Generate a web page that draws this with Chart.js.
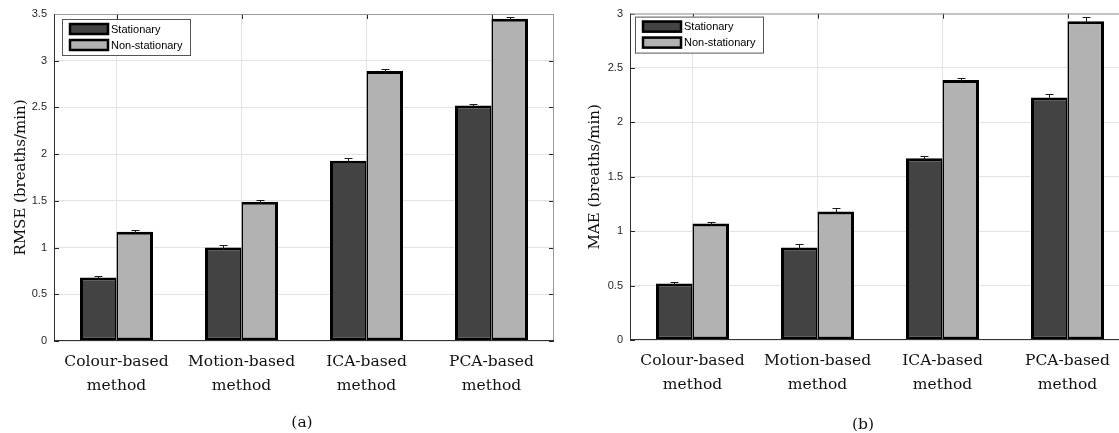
<!DOCTYPE html>
<html>
<head>
<meta charset="utf-8">
<script src="https://cdn.jsdelivr.net/npm/chart.js@4"></script>
<style>
  html, body { margin: 0; padding: 0; background: #fff; overflow: hidden; width: 1119px; height: 433px; position: relative; }
  canvas { position: absolute; top: 0; }
  #chartA { left: 0; }
  #chartB { left: 560px; }
  .caption { position: absolute; font-family: "DejaVu Serif", serif; font-size: 15.5px; color: #111; transform: translate(-50%, -50%); white-space: nowrap; }
</style>
</head>
<body>
<canvas id="chartA" width="560" height="433"></canvas>
<canvas id="chartB" width="576" height="433"></canvas>
<div class="caption" style="left:302px; top:422px;">(a)</div>
<div class="caption" style="left:863px; top:424px;">(b)</div>
<script>
// Categories (two-line axis labels)
const methods = [
  ['Colour-based', 'method'],
  ['Motion-based', 'method'],
  ['ICA-based', 'method'],
  ['PCA-based', 'method']
];
const seriesNames = ['Stationary', 'Non-stationary'];

// RMSE (breaths/min)
const rmseStationary       = [0.68, 1.00, 1.93, 2.52];
const rmseStationaryErr    = [0.015, 0.03, 0.025, 0.02];
const rmseNonStationary    = [1.17, 1.49, 2.89, 3.45];
const rmseNonStationaryErr = [0.015, 0.02, 0.02, 0.02];

// MAE (breaths/min)
const maeStationary       = [0.52, 0.85, 1.67, 2.23];
const maeStationaryErr    = [0.015, 0.03, 0.02, 0.03];
const maeNonStationary    = [1.07, 1.18, 2.39, 2.93];
const maeNonStationaryErr = [0.015, 0.03, 0.02, 0.035];

const DARK = '#434343';
const LIGHT = '#b2b2b2';
const INK = '#262626';

// Box, inward ticks, error bars and an inside legend, MATLAB style
function decorPlugin(legendDx, legendDy) {
  return {
    id: 'decor',
    beforeDatasetsDraw(chart) {
      const { ctx, chartArea: a, scales } = chart;
      ctx.save();
      ctx.strokeStyle = INK;
      ctx.lineWidth = 1;
      const tl = 5;
      scales.y.ticks.forEach(t => {
        const y = Math.round(scales.y.getPixelForValue(t.value)) + 0.5;
        ctx.beginPath();
        ctx.moveTo(a.left, y); ctx.lineTo(a.left + tl, y);
        ctx.moveTo(a.right, y); ctx.lineTo(a.right - tl, y);
        ctx.stroke();
      });
      methods.forEach((m, i) => {
        const x = Math.round(scales.x.getPixelForValue(i)) + 0.5;
        ctx.beginPath();
        ctx.moveTo(x, a.top); ctx.lineTo(x, a.top + tl);
        ctx.moveTo(x, a.bottom); ctx.lineTo(x, a.bottom - tl);
        ctx.stroke();
      });
      ctx.restore();
    },
    afterDatasetsDraw(chart) {
      const { ctx, chartArea: a, scales } = chart;
      ctx.save();
      // error bars (upper whisker shows above each bar)
      ctx.strokeStyle = '#1a1a1a';
      ctx.lineWidth = 1;
      chart.data.datasets.forEach((ds, di) => {
        const meta = chart.getDatasetMeta(di);
        meta.data.forEach((bar, i) => {
          const x = Math.round(bar.x) + 0.5;
          const yTop = Math.round(scales.y.getPixelForValue(ds.data[i] + ds.errors[i])) + 0.5;
          const yBase = scales.y.getPixelForValue(ds.data[i]) + 2;
          ctx.beginPath();
          ctx.moveTo(x, yBase); ctx.lineTo(x, yTop);
          ctx.moveTo(x - 4, yTop); ctx.lineTo(x + 4, yTop);
          ctx.stroke();
        });
      });
      // axes box
      ctx.lineWidth = 1;
      ctx.strokeStyle = '#9a9a9a';
      ctx.beginPath();
      ctx.moveTo(a.left, a.top + 0.5); ctx.lineTo(a.right, a.top + 0.5);
      ctx.moveTo(a.right - 0.5, a.top); ctx.lineTo(a.right - 0.5, a.bottom);
      ctx.stroke();
      ctx.strokeStyle = '#333';
      ctx.beginPath();
      ctx.moveTo(a.left + 0.5, a.top); ctx.lineTo(a.left + 0.5, a.bottom);
      ctx.moveTo(a.left, a.bottom - 0.5); ctx.lineTo(a.right, a.bottom - 0.5);
      ctx.stroke();

      // legend
      const bx = a.left + legendDx, by = a.top + legendDy, bw = 129, bh = 37;
      ctx.fillStyle = '#fff';
      ctx.fillRect(bx, by, bw, bh);
      ctx.strokeStyle = '#555';
      ctx.strokeRect(bx + 0.5, by + 0.5, bw - 1, bh - 1);
      ctx.font = '11px "Liberation Sans", Arial, sans-serif';
      ctx.textBaseline = 'middle';
      ctx.textAlign = 'left';
      chart.data.datasets.forEach((ds, di) => {
        const cy = by + 10 + di * 16;
        ctx.fillStyle = ds.backgroundColor;
        ctx.fillRect(bx + 7, cy - 6, 40, 12);
        ctx.lineWidth = 2.5;
        ctx.strokeStyle = '#000';
        ctx.strokeRect(bx + 8, cy - 5, 38, 10);
        ctx.fillStyle = '#000';
        ctx.fillText(ds.label, bx + 49, cy + 0.5);
      });
      ctx.restore();
    }
  };
}

function makeChart(canvasId, yTitle, yMax, stat, statErr, nonStat, nonStatErr, opt) {
  return new Chart(document.getElementById(canvasId), {
    type: 'bar',
    data: {
      labels: methods,
      datasets: [
        {
          label: seriesNames[0], data: stat, errors: statErr,
          backgroundColor: DARK, borderColor: '#000',
          borderWidth: { top: 3, left: 3, bottom: 3, right: 1.5 }, borderSkipped: false
        },
        {
          label: seriesNames[1], data: nonStat, errors: nonStatErr,
          backgroundColor: LIGHT, borderColor: '#000',
          borderWidth: { top: 3, left: 1.5, bottom: 3, right: 3 }, borderSkipped: false
        }
      ]
    },
    options: {
      responsive: false,
      animation: false,
      devicePixelRatio: 1,
      categoryPercentage: 0.584,
      barPercentage: 1.0,
      layout: { padding: { top: opt.top, bottom: opt.bottom, left: 0, right: 6 } },
      plugins: { legend: { display: false }, tooltip: { enabled: false } },
      scales: {
        x: {
          grid: { offset: false, color: '#e3e3e3', drawTicks: false },
          border: { display: false },
          ticks: {
            padding: 9,
            color: '#111',
            maxRotation: 0, autoSkip: false,
            font: { family: '"DejaVu Serif", serif', size: 15.5, lineHeight: 1.55 }
          },
          afterFit(s) { s.height = 60; }
        },
        y: {
          min: 0, max: yMax,
          grid: { color: '#e3e3e3', drawTicks: false },
          border: { display: false },
          ticks: {
            stepSize: 0.5, padding: 7, color: INK,
            font: { family: '"Liberation Sans", Arial, sans-serif', size: 11 },
            callback: v => String(Math.round(v * 10) / 10)
          },
          title: {
            display: true, text: yTitle, color: '#111',
            font: { family: '"DejaVu Serif", serif', size: 15 },
            padding: { top: opt.titlePad, bottom: 0 }
          },
          afterFit(s) { s.width = opt.axisWidth; }
        }
      }
    },
    plugins: [decorPlugin(opt.legendDx, opt.legendDy)]
  });
}

makeChart('chartA', 'RMSE (breaths/min)', 3.5,
  rmseStationary, rmseStationaryErr, rmseNonStationary, rmseNonStationaryErr,
  { top: 14, bottom: 32, axisWidth: 54, titlePad: 12, legendDx: 8, legendDy: 5 });

makeChart('chartB', 'MAE (breaths/min)', 3,
  maeStationary, maeStationaryErr, maeNonStationary, maeNonStationaryErr,
  { top: 13, bottom: 33, axisWidth: 70, titlePad: 26, legendDx: 5, legendDy: 3 });
</script>
</body>
</html>
